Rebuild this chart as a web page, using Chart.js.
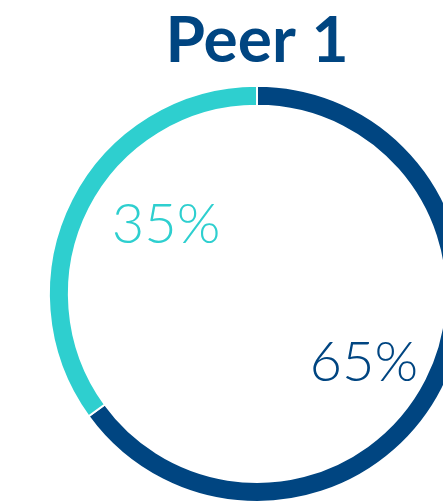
<!DOCTYPE html>
<html>
<head>
<meta charset="utf-8">
<script src="https://cdn.jsdelivr.net/npm/chart.js@4/dist/chart.umd.min.js"></script>
<style>
  html, body { margin: 0; padding: 0; background: #fff; overflow: hidden; }
  #wrap { position: relative; width: 514px; height: 503px; }
</style>
</head>
<body>
<div id="wrap"><canvas id="peerChart"></canvas></div>
<script>
const title = 'Peer 1';
const segments = ['Peer', 'Other'];
const shares = [65, 35];
const colours = ['#004581', '#2ecfcf'];

// Writes each slice's share inside the ring, a little past the slice's middle angle
const shareLabels = {
    id: 'shareLabels',
    afterDatasetsDraw(chart) {
        const ctx = chart.ctx;
        const meta = chart.getDatasetMeta(0);
        ctx.save();
        ctx.font = '300 56px Lato';
        ctx.textAlign = 'center';
        ctx.textBaseline = 'middle';
        meta.data.forEach((arc, i) => {
            const p = arc.getProps(['x', 'y', 'startAngle', 'endAngle', 'outerRadius'], true);
            const mid = (p.startAngle + p.endAngle) / 2 + 0.14;
            const dist = p.outerRadius * 0.58;
            ctx.fillStyle = colours[i];
            ctx.fillText(shares[i] + '%', p.x + Math.cos(mid) * dist + 8, p.y + Math.sin(mid) * dist);
        });
        ctx.restore();
    }
};

new Chart(document.getElementById('peerChart'), {
    type: 'doughnut',
    data: {
        labels: segments,
        datasets: [{
            data: shares,
            backgroundColor: colours,
            borderColor: '#ffffff',
            borderWidth: 2
        }]
    },
    options: {
        responsive: true,
        maintainAspectRatio: false,
        animation: false,
        cutout: '90.4%',
        layout: { padding: 0 },
        plugins: {
            legend: { display: false },
            tooltip: { enabled: false },
            title: {
                display: true,
                text: title,
                color: '#004581',
                font: { family: 'Lato', size: 64, weight: 'bold', lineHeight: 1.2 },
                padding: { top: 3, bottom: 5 }
            }
        }
    },
    plugins: [shareLabels]
});
</script>
</body>
</html>
